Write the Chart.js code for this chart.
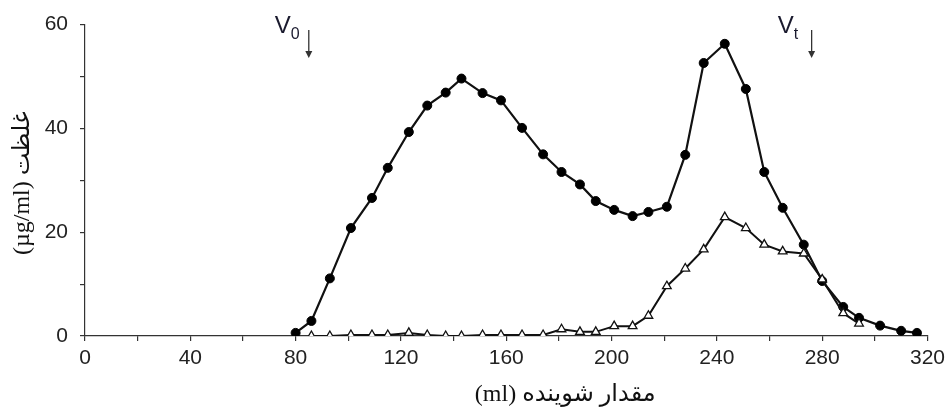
<!DOCTYPE html>
<html>
<head>
<meta charset="utf-8">
<script src="https://cdn.jsdelivr.net/npm/chart.js@4.4.1/dist/chart.umd.min.js"></script>
<style>
  html, body { margin: 0; padding: 0; background: #fff; }
  #wrap { width: 950px; height: 408px; }
</style>
</head>
<body>
<div id="wrap"><canvas id="elutionChart" width="950" height="408"></canvas></div>
<script>
// elution volume (ml) of each fraction
const volumes = [80, 86, 93, 101, 109, 115, 123, 130, 137, 143, 151, 158, 166, 174, 181, 188, 194,
    201, 208, 214, 221, 228, 235, 243, 251, 258, 265, 273, 280, 288, 294, 302, 310, 316];
// filled circles
const circleSeries = [0.6, 2.9, 11.1, 20.8, 26.6, 32.4, 39.3, 44.4, 46.9, 49.6, 46.8, 45.4, 40.1, 35.0, 31.6, 29.2, 26.0,
    24.3, 23.1, 23.9, 24.9, 34.9, 52.6, 56.3, 47.6, 31.6, 24.7, 17.6, 10.6, 5.6, 3.5, 2.0, 1.0, 0.6];
// open triangles
const triangleSeries = [null, 0, 0, 0.2, 0.2, 0.2, 0.6, 0.2, 0, 0, 0.2, 0.2, 0.2, 0.2, 1.3, 0.8, 0.8,
    1.9, 1.9, 3.9, 9.6, 13, 16.7, 22.9, 20.8, 17.6, 16.3, 15.9, 10.9, 4.4, 2.4, null, null, null];

const xTitle = 'مقدار شوینده (ml)';
const yTitle = 'غلظت (µg/ml)';

// V0 / Vt markers
const markerNames = ['0', 't'];
const markerVolumes = [85, 276];

const toPoints = (series) => volumes.map((v, i) => ({ x: v, y: series[i] }));

const tickFont = { family: '"Liberation Sans", Arial, sans-serif', size: 21 };
const axisColor = '#333';

const extrasPlugin = {
    id: 'extras',
    afterDraw(chart) {
        const { ctx, chartArea, scales } = chart;
        ctx.save();
        // axis titles
        ctx.direction = 'rtl';
        ctx.fillStyle = '#111';
        ctx.font = '24px "Liberation Serif", "DejaVu Sans", serif';
        ctx.textAlign = 'center';
        ctx.textBaseline = 'middle';
        ctx.fillText(xTitle, (chartArea.left + chartArea.right) / 2 + 59, 395);
        ctx.translate(23, (chartArea.top + chartArea.bottom) / 2 + 3);
        ctx.rotate(-Math.PI / 2);
        ctx.fillText(yTitle, 0, 0);
        ctx.restore();

        // V0 and Vt arrows
        ctx.save();
        ctx.direction = 'ltr';
        markerNames.forEach((name, i) => {
            const x = scales.x.getPixelForValue(markerVolumes[i]);
            ctx.strokeStyle = '#333';
            ctx.fillStyle = '#333';
            ctx.lineWidth = 1.3;
            ctx.beginPath();
            ctx.moveTo(x, 30);
            ctx.lineTo(x, 54);
            ctx.stroke();
            ctx.beginPath();
            ctx.moveTo(x - 3.5, 51);
            ctx.lineTo(x + 3.5, 51);
            ctx.lineTo(x, 58);
            ctx.closePath();
            ctx.fill();

            ctx.fillStyle = '#1a1a2e';
            ctx.textBaseline = 'alphabetic';
            ctx.textAlign = 'left';
            ctx.font = '24px "Liberation Sans", Arial, sans-serif';
            const vx = x - 34;
            ctx.fillText('V', vx, 33);
            const vw = ctx.measureText('V').width;
            ctx.font = '16px "Liberation Sans", Arial, sans-serif';
            ctx.fillText(name, vx + vw, 39);
        });
        ctx.restore();
    }
};

const ctx = document.getElementById('elutionChart').getContext('2d');
new Chart(ctx, {
    type: 'line',
    data: {
        datasets: [
            {
                label: 'triangles',
                data: toPoints(triangleSeries),
                borderColor: '#111',
                borderWidth: 2,
                pointStyle: 'triangle',
                pointRadius: 5,
                pointBackgroundColor: '#fff',
                pointBorderColor: '#111',
                pointBorderWidth: 1.3,
                spanGaps: false,
                tension: 0,
                order: 0
            },
            {
                label: 'circles',
                data: toPoints(circleSeries),
                borderColor: '#111',
                borderWidth: 2.2,
                pointStyle: 'circle',
                pointRadius: 4.5,
                pointBackgroundColor: '#000',
                pointBorderColor: '#000',
                pointBorderWidth: 1,
                tension: 0,
                order: 1
            }
        ]
    },
    options: {
        responsive: false,
        animation: false,
        layout: { padding: { top: 24, right: 20, left: 0, bottom: 0 } },
        plugins: { legend: { display: false }, tooltip: { enabled: false } },
        scales: {
            x: {
                type: 'linear',
                min: 0,
                max: 320,
                afterFit: (scale) => { scale.height = 72; },
                border: { display: true, color: axisColor, width: 1.2 },
                grid: { drawOnChartArea: false, drawTicks: true, tickLength: 5, color: axisColor, lineWidth: 1.2 },
                ticks: {
                    stepSize: 20,
                    autoSkip: false,
                    maxRotation: 0,
                    padding: 5,
                    color: '#222',
                    font: tickFont,
                    callback: (v) => (v % 40 === 0 ? v : '')
                }
            },
            y: {
                min: 0,
                max: 60,
                afterFit: (scale) => { scale.width = 85; },
                border: { display: true, color: axisColor, width: 1.2 },
                grid: { drawOnChartArea: false, drawTicks: true, tickLength: 5, color: axisColor, lineWidth: 1.2 },
                ticks: {
                    stepSize: 10,
                    padding: 12,
                    color: '#222',
                    font: tickFont,
                    callback: (v) => (v % 20 === 0 ? v : '')
                }
            }
        }
    },
    plugins: [extrasPlugin]
});
</script>
</body>
</html>
